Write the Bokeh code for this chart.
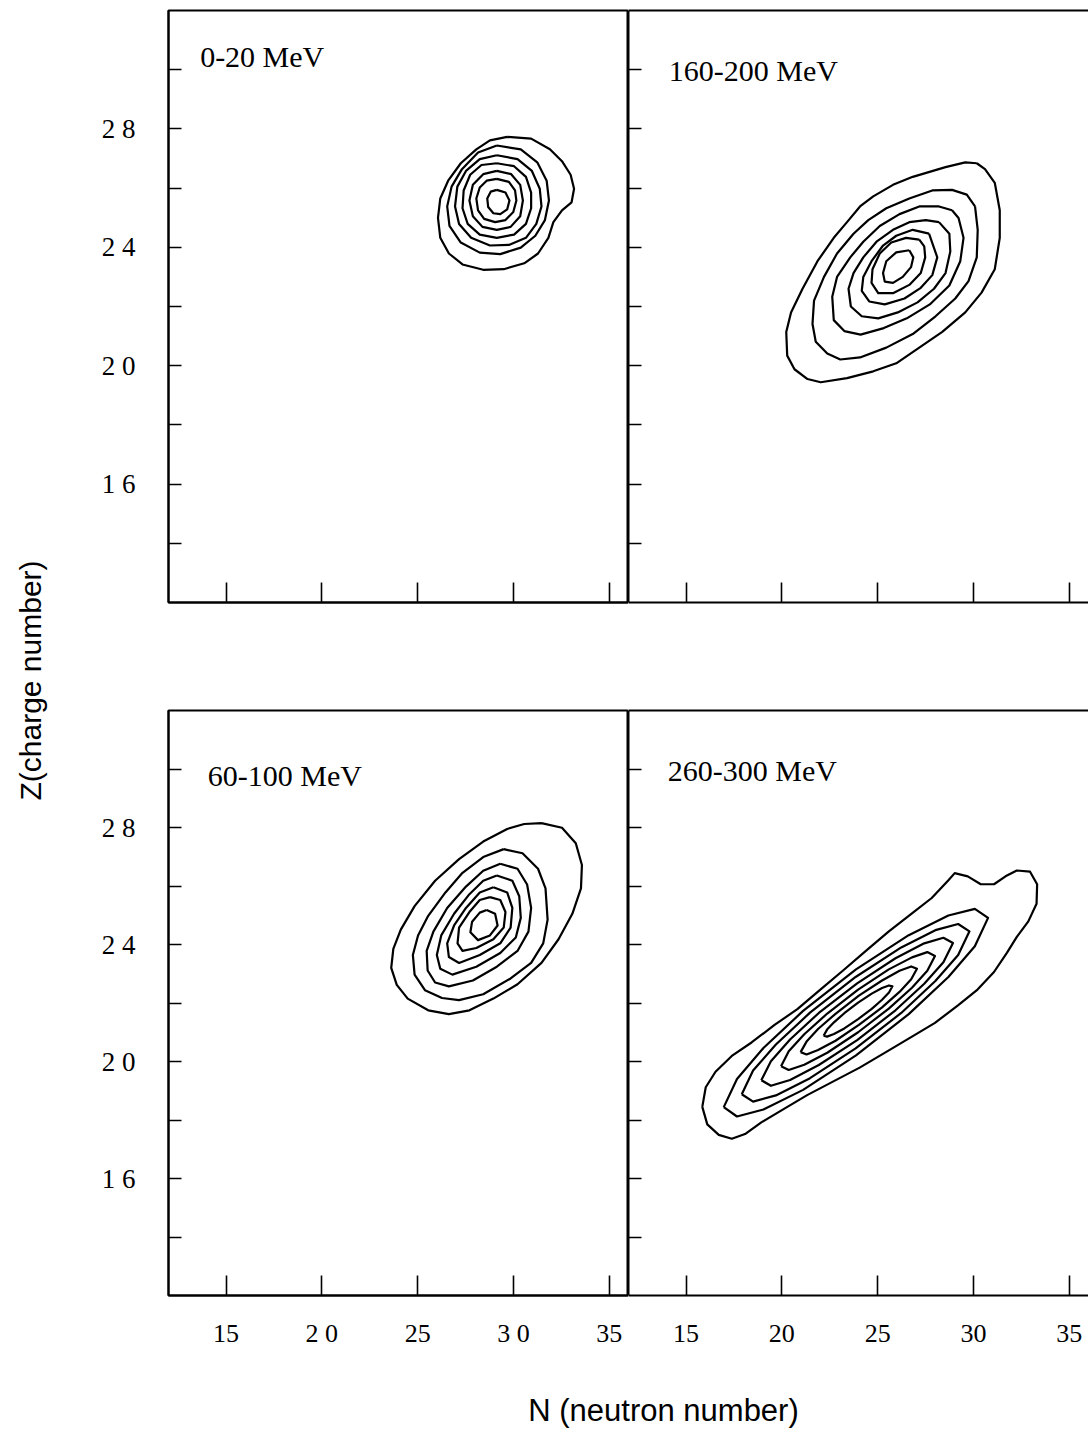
import math
from bokeh.plotting import figure
from bokeh.models import Range1d, FixedTicker, LinearAxis, Label
from bokeh.layouts import row, column
from bokeh.embed import file_html
from bokeh.resources import INLINE

# ---------------- data ----------------
N_TICKS = [15, 20, 25, 30, 35]
Z_TICKS = [14, 16, 18, 20, 22, 24, 26, 28, 30]
Z_TICK_LABELS = {14: "", 16: "1 6", 18: "", 20: "2 0", 22: "", 24: "2 4", 26: "", 28: "2 8", 30: ""}
N_LABELS_LEFT = {15: "15", 20: "2 0", 25: "25", 30: "3 0", 35: "35"}
N_LABELS_RIGHT = {15: "15", 20: "20", 25: "25", 30: "30", 35: "35"}
PANEL_LABELS = ["0-20 MeV", "160-200 MeV", "60-100 MeV", "260-300 MeV"]

# contour rings (outer -> inner), N values and Z values
N_0_20 = [
    [29.67, 30.92, 31.90, 32.53, 32.98, 33.16, 33.03, 32.53, 32.08, 31.82, 31.28, 30.56, 29.49, 28.42, 27.34, 26.63, 26.18, 26.06, 26.18, 26.59, 27.25, 28.06, 28.77],
    [29.13, 30.38, 31.24, 31.73, 31.85, 31.64, 31.14, 30.38, 29.31, 28.24, 27.25, 26.66, 26.54, 26.77, 27.31, 28.15],
    [29.13, 30.21, 30.96, 31.37, 31.46, 31.19, 30.65, 29.76, 28.77, 27.79, 27.16, 26.95, 27.07, 27.52, 28.24],
    [29.13, 30.03, 30.65, 30.92, 30.92, 30.65, 30.03, 29.13, 28.24, 27.61, 27.34, 27.40, 27.74, 28.33],
    [29.13, 29.88, 30.35, 30.49, 30.35, 29.85, 29.13, 28.38, 27.88, 27.70, 27.88, 28.42],
    [29.13, 29.76, 30.08, 30.15, 29.99, 29.58, 29.04, 28.47, 28.15, 28.06, 28.24, 28.60],
    [29.13, 29.58, 29.79, 29.67, 29.31, 28.95, 28.68, 28.63, 28.81],
]
Z_0_20 = [
    [27.73, 27.67, 27.31, 26.91, 26.45, 25.98, 25.52, 25.25, 24.85, 24.32, 23.79, 23.46, 23.26, 23.24, 23.42, 23.79, 24.32, 24.99, 25.65, 26.25, 26.84, 27.31, 27.61],
    [27.44, 27.31, 26.87, 26.25, 25.58, 24.92, 24.39, 23.99, 23.77, 23.82, 24.16, 24.72, 25.38, 26.05, 26.64, 27.20],
    [27.11, 26.98, 26.58, 25.98, 25.38, 24.79, 24.32, 24.08, 24.06, 24.32, 24.79, 25.38, 26.05, 26.58, 26.98],
    [26.84, 26.74, 26.38, 25.85, 25.32, 24.79, 24.43, 24.32, 24.43, 24.79, 25.32, 25.92, 26.45, 26.78],
    [26.58, 26.47, 26.11, 25.58, 25.05, 24.69, 24.59, 24.69, 25.05, 25.58, 26.11, 26.47],
    [26.31, 26.21, 25.92, 25.58, 25.19, 24.92, 24.85, 24.96, 25.25, 25.65, 26.02, 26.25],
    [25.94, 25.85, 25.58, 25.28, 25.12, 25.15, 25.36, 25.65, 25.88],
]

N_160_200 = [
    [30.17, 29.57, 28.54, 26.83, 25.80, 24.77, 24.08, 23.40, 22.71, 21.86, 21.08, 20.48, 20.23, 20.28, 20.66, 21.34, 22.03, 23.40, 24.77, 25.97, 27.17, 28.37, 29.57, 30.42, 31.11, 31.37, 31.37, 31.11, 30.60],
    [30.08, 29.65, 28.88, 27.85, 26.65, 25.45, 24.51, 23.74, 22.88, 22.20, 21.68, 21.60, 21.77, 22.37, 23.05, 24.08, 25.45, 26.83, 28.02, 29.05, 29.74, 30.17, 30.22],
    [28.88, 28.20, 27.17, 26.14, 25.11, 24.25, 23.57, 22.88, 22.63, 22.71, 23.26, 24.11, 25.32, 26.52, 27.72, 28.74, 29.31, 29.48, 29.22],
    [28.20, 27.51, 26.65, 25.80, 24.94, 24.25, 23.74, 23.48, 23.60, 24.17, 25.03, 26.05, 27.08, 27.94, 28.54, 28.79, 28.74],
    [27.68, 26.83, 25.97, 25.28, 24.68, 24.25, 24.17, 24.56, 25.37, 26.40, 27.25, 27.85, 28.11],
    [27.17, 26.48, 25.71, 25.11, 24.73, 24.68, 25.03, 25.80, 26.65, 27.25, 27.48, 27.43],
    [26.65, 25.97, 25.45, 25.28, 25.37, 25.80, 26.31, 26.74, 26.86],
]
Z_160_200 = [
    [26.84, 26.87, 26.71, 26.38, 26.11, 25.72, 25.38, 24.85, 24.32, 23.53, 22.60, 21.80, 21.14, 20.34, 19.88, 19.55, 19.44, 19.58, 19.81, 20.08, 20.61, 21.14, 21.80, 22.47, 23.26, 24.32, 25.25, 26.18, 26.64],
    [25.38, 25.78, 25.94, 25.92, 25.65, 25.32, 24.92, 24.46, 23.79, 23.00, 22.20, 21.41, 20.81, 20.41, 20.21, 20.28, 20.61, 21.07, 21.67, 22.27, 22.86, 23.66, 24.59],
    [25.25, 25.38, 25.38, 25.12, 24.72, 24.19, 23.66, 23.00, 22.33, 21.54, 21.17, 21.05, 21.27, 21.60, 22.07, 22.71, 23.53, 24.32, 24.99],
    [24.85, 24.92, 24.85, 24.59, 24.19, 23.66, 23.13, 22.60, 22.00, 21.67, 21.60, 21.80, 22.14, 22.60, 23.13, 23.86, 24.46],
    [24.46, 24.59, 24.39, 24.06, 23.53, 23.00, 22.53, 22.17, 22.07, 22.27, 22.63, 23.06, 23.66],
    [24.26, 24.32, 24.16, 23.79, 23.26, 22.80, 22.45, 22.45, 22.73, 23.13, 23.66, 24.03],
    [23.90, 23.83, 23.53, 23.13, 22.84, 22.80, 23.00, 23.33, 23.66],
]

N_60_100 = [
    [31.46, 32.53, 33.25, 33.57, 33.52, 33.07, 32.35, 31.46, 30.21, 28.95, 27.70, 26.63, 25.55, 24.48, 23.91, 23.62, 23.73, 24.12, 24.84, 25.91, 27.16, 28.42, 29.67, 30.56],
    [29.49, 30.47, 31.28, 31.67, 31.78, 31.55, 30.92, 29.85, 28.42, 27.16, 26.27, 25.38, 24.84, 24.75, 25.02, 25.55, 26.45, 27.34, 28.42],
    [29.31, 30.21, 30.71, 30.92, 30.78, 30.21, 29.13, 27.88, 26.63, 25.91, 25.52, 25.47, 25.82, 26.54, 27.52, 28.42],
    [29.13, 29.94, 30.30, 30.38, 30.12, 29.31, 28.06, 26.81, 26.18, 26.00, 26.23, 26.90, 27.70, 28.42],
    [28.95, 29.67, 29.94, 29.85, 29.31, 28.24, 27.16, 26.63, 26.54, 26.90, 27.52, 28.24],
    [28.77, 29.31, 29.58, 29.49, 28.95, 28.06, 27.34, 27.08, 27.16, 27.70, 28.24],
    [28.60, 29.04, 29.17, 28.77, 28.15, 27.75, 27.84, 28.24],
]
Z_60_100 = [
    [28.15, 27.99, 27.46, 26.72, 25.92, 25.05, 24.18, 23.37, 22.64, 22.15, 21.75, 21.62, 21.75, 22.15, 22.62, 23.20, 23.85, 24.51, 25.31, 26.18, 26.92, 27.52, 27.95, 28.12],
    [27.26, 27.12, 26.59, 25.92, 24.85, 24.04, 23.37, 22.84, 22.30, 22.10, 22.17, 22.44, 22.97, 23.64, 24.31, 24.98, 25.78, 26.45, 26.99],
    [26.76, 26.59, 26.05, 25.25, 24.44, 23.78, 23.24, 22.77, 22.57, 22.70, 23.11, 23.78, 24.44, 25.25, 25.98, 26.52],
    [26.36, 26.18, 25.65, 24.91, 24.24, 23.71, 23.24, 22.97, 23.17, 23.64, 24.31, 25.05, 25.72, 26.18],
    [25.96, 25.78, 25.25, 24.58, 24.04, 23.64, 23.37, 23.57, 24.04, 24.65, 25.25, 25.78],
    [25.62, 25.52, 25.11, 24.58, 24.18, 23.88, 23.78, 24.04, 24.58, 25.11, 25.52],
    [25.18, 25.05, 24.65, 24.31, 24.15, 24.42, 24.78, 25.09],
]

N_260_300 = [
    [15.85, 16.03, 16.54, 17.39, 18.42, 19.62, 20.81, 22.01, 23.21, 24.40, 25.60, 26.79, 27.82, 28.68, 29.02, 29.70, 30.38, 31.07, 31.67, 32.26, 32.95, 33.32, 33.29, 32.86, 32.26, 31.75, 31.07, 30.21, 29.19, 27.99, 26.79, 25.43, 24.06, 22.69, 21.32, 19.96, 18.93, 18.08, 17.39, 16.71, 16.11],
    [16.97, 17.66, 19.04, 21.11, 23.87, 26.62, 28.69, 30.07, 30.76, 30.07, 28.69, 26.62, 23.87, 21.11, 19.04, 17.66],
    [17.91, 18.50, 19.69, 21.47, 23.85, 26.23, 28.01, 29.20, 29.79, 29.20, 28.01, 26.23, 23.85, 21.47, 19.69, 18.50],
    [18.93, 19.43, 20.43, 21.93, 23.93, 25.93, 27.43, 28.43, 28.93, 28.43, 27.43, 25.93, 23.93, 21.93, 20.43, 19.43],
    [19.96, 20.36, 21.17, 22.37, 23.98, 25.58, 26.79, 27.59, 27.99, 27.59, 26.79, 25.58, 23.98, 22.37, 21.17, 20.36],
    [20.98, 21.29, 21.89, 22.80, 24.02, 25.23, 26.14, 26.75, 27.05, 26.75, 26.14, 25.23, 24.02, 22.80, 21.89, 21.29],
    [22.18, 22.36, 22.72, 23.26, 23.98, 24.69, 25.23, 25.59, 25.77, 25.59, 25.23, 24.69, 23.98, 23.26, 22.72, 22.36],
]
Z_260_300 = [
    [18.45, 19.12, 19.65, 20.19, 20.65, 21.25, 21.79, 22.46, 23.12, 23.79, 24.46, 25.06, 25.59, 26.19, 26.44, 26.33, 26.06, 26.06, 26.33, 26.53, 26.49, 26.06, 25.39, 24.79, 24.26, 23.72, 23.06, 22.46, 21.92, 21.32, 20.85, 20.32, 19.79, 19.32, 18.85, 18.32, 17.92, 17.52, 17.36, 17.49, 17.85],
    [18.44, 19.40, 20.46, 21.73, 23.15, 24.32, 24.99, 25.22, 24.91, 23.94, 22.89, 21.62, 20.21, 19.03, 18.36, 18.12],
    [18.88, 19.69, 20.58, 21.67, 22.89, 23.90, 24.49, 24.70, 24.45, 23.64, 22.75, 21.66, 20.45, 19.43, 18.84, 18.63],
    [19.36, 20.01, 20.75, 21.66, 22.67, 23.53, 24.04, 24.23, 24.05, 23.39, 22.66, 21.75, 20.73, 19.88, 19.37, 19.17],
    [19.84, 20.35, 20.93, 21.64, 22.46, 23.15, 23.56, 23.74, 23.61, 23.10, 22.52, 21.81, 21.00, 20.30, 19.89, 19.71],
    [20.32, 20.68, 21.11, 21.63, 22.25, 22.77, 23.10, 23.25, 23.17, 22.81, 22.38, 21.85, 21.25, 20.71, 20.39, 20.24],
    [20.88, 21.09, 21.34, 21.65, 22.01, 22.32, 22.51, 22.60, 22.57, 22.36, 22.11, 21.80, 21.45, 21.13, 20.94, 20.85],
]

# ---------------- styling ----------------
SERIF = "Liberation Serif"
SANS = "Liberation Sans"


def closed(rings):
    return [list(r) + [r[0]] for r in rings]


def style_axis(ax, tick_in):
    ax.axis_line_width = 2
    ax.axis_line_color = "black"
    ax.major_tick_in = tick_in
    ax.major_tick_out = 0
    ax.minor_tick_in = 0
    ax.minor_tick_out = 0
    ax.major_tick_line_width = 1.6
    ax.major_tick_line_color = "black"


def make_panel(label, lab_n, lab_z, ring_n, ring_z, left, top_row, n_labels):
    width = 568 if left else 460
    height = 708 if top_row else 647
    p = figure(width=width, height=height,
               x_range=Range1d(12, 36), y_range=Range1d(12, 32),
               output_backend="svg", toolbar_location=None,
               min_border_left=108 if left else 0, min_border_right=0,
               min_border_top=10 if top_row else 2,
               min_border_bottom=106 if top_row else 60)
    p.background_fill_color = "white"
    p.border_fill_color = "white"
    p.xgrid.visible = False
    p.ygrid.visible = False

    # y axis (left)
    ya = p.left[0]
    ya.ticker = FixedTicker(ticks=Z_TICKS)
    style_axis(ya, 13)
    if left:
        ya.major_label_overrides = Z_TICK_LABELS
        ya.major_label_text_font = SERIF
        ya.major_label_text_font_size = "27px"
        ya.major_label_standoff = 33
        ya.major_label_text_color = "black"
    else:
        ya.major_label_overrides = {z: "" for z in Z_TICKS}
        ya.major_label_text_font_size = "0px"
        ya.major_label_standoff = 0

    # x axis (below)
    xa = p.below[0]
    xa.ticker = FixedTicker(ticks=N_TICKS)
    style_axis(xa, 20)
    if n_labels is not None:
        xa.major_label_overrides = n_labels
        xa.major_label_text_font = SERIF
        xa.major_label_text_font_size = "26px"
        xa.major_label_standoff = 23 if left else 29
        xa.major_label_text_color = "black"
    else:
        xa.major_label_overrides = {n: "" for n in N_TICKS}
        xa.major_label_text_font_size = "0px"
        xa.major_label_standoff = 0

    if left:
        p.outline_line_color = "black"
        p.outline_line_width = 2
    else:
        p.outline_line_color = None
        top_axis = LinearAxis(ticker=FixedTicker(ticks=[]))
        style_axis(top_axis, 0)
        top_axis.major_label_standoff = 0
        top_axis.major_label_text_font_size = "0px"
        p.add_layout(top_axis, "above")

    p.multi_line(xs=closed(ring_n), ys=closed(ring_z), line_color="black",
                 line_width=2.2, line_join="round")

    p.add_layout(Label(x=lab_n, y=lab_z, text=label, text_font=SERIF,
                       text_font_size="30px", text_align="left",
                       text_baseline="middle", text_color="black"))
    return p


tl = make_panel(PANEL_LABELS[0], 13.65, 30.45, N_0_20, Z_0_20, True, True, None)
tr = make_panel(PANEL_LABELS[1], 14.1, 29.97, N_160_200, Z_160_200, False, True, None)
bl = make_panel(PANEL_LABELS[2], 14.05, 29.78, N_60_100, Z_60_100, True, False, N_LABELS_LEFT)
br = make_panel(PANEL_LABELS[3], 14.05, 29.95, N_260_300, Z_260_300, False, False, N_LABELS_RIGHT)

# left strip with the vertical axis title
lt = figure(width=60, height=1444, x_range=Range1d(0, 60), y_range=Range1d(1444, 0),
            x_axis_type=None, y_axis_type=None, output_backend="svg",
            toolbar_location=None, min_border=0)
lt.outline_line_color = None
lt.background_fill_color = "white"
lt.border_fill_color = "white"
lt.add_layout(Label(x=30, y=680, text="Z(charge number)", angle=math.pi / 2,
                    text_align="center", text_baseline="middle",
                    text_font=SANS, text_font_size="30px", text_color="black"))

# bottom strip with the horizontal axis title
bt = figure(width=1028, height=89, x_range=Range1d(60, 1088), y_range=Range1d(1444, 1355),
            x_axis_type=None, y_axis_type=None, output_backend="svg",
            toolbar_location=None, min_border=0)
bt.outline_line_color = None
bt.background_fill_color = "white"
bt.border_fill_color = "white"
bt.add_layout(Label(x=663, y=1410, text="N (neutron number)",
                    text_align="center", text_baseline="middle",
                    text_font=SANS, text_font_size="31px", text_color="black"))

layout = row(lt, column(row(tl, tr), row(bl, br), bt))

open("out.html", "w").write(file_html(layout, INLINE))
